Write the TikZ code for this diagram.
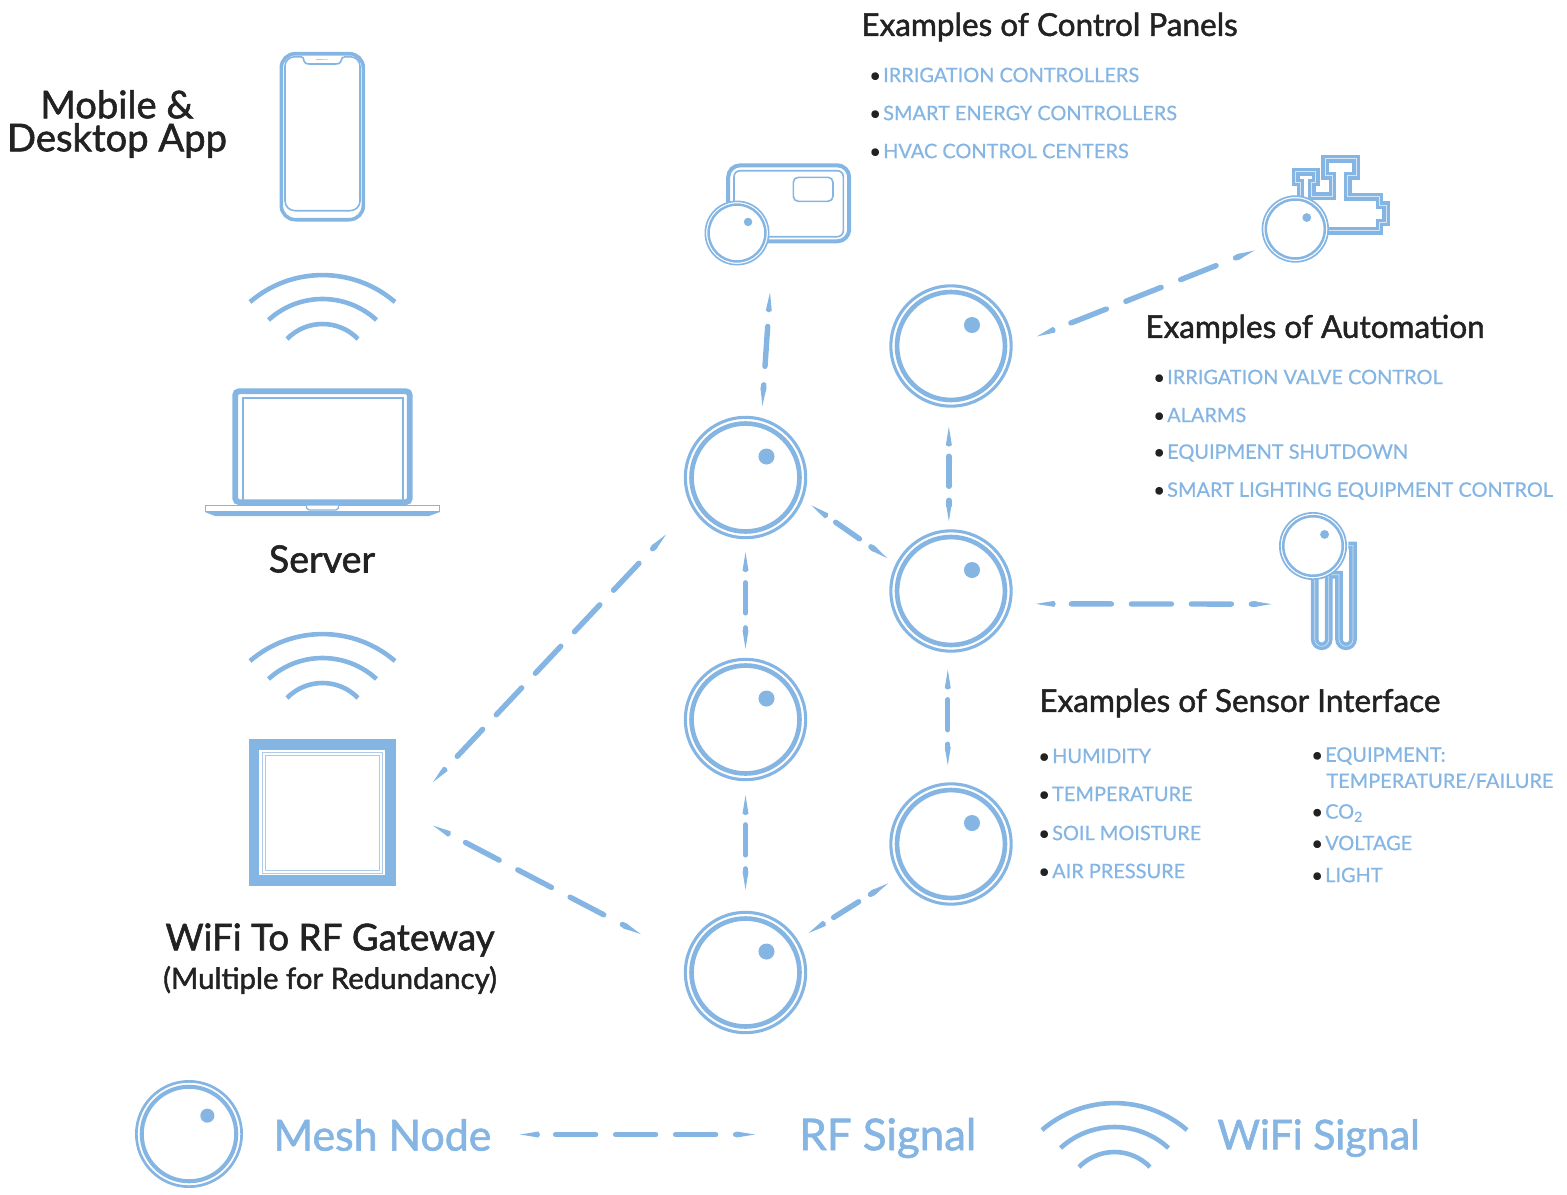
\documentclass[tikz,border=0pt]{standalone}
\usepackage{fontspec}
\setmainfont{Lato}
\newfontfamily\headfont[FakeBold=1.5]{Lato}
\newfontfamily\listfont[FakeBold=0.7]{Lato}
\usetikzlibrary{arrows.meta,calc}
\definecolor{meshblue}{HTML}{85B5E3}
\definecolor{ink}{HTML}{222222}
\tikzset{
  meshring/.style={circle, draw=meshblue, fill=white, inner sep=0pt},
  rfsignal/.style={color=meshblue, line width=2.7pt, line cap=round, arrows={Kite[length=10pt,width=3pt,inset=0.8pt]-Kite[length=10pt,width=3pt,inset=0.8pt]}},
  rfdash/.style 2 args={dash pattern=on #1pt off #2pt, dash phase=#1pt},
  wifiarc/.style={draw=meshblue, line width=2.3pt},
  wifisignal/.pic={
    \draw[wifiarc] (-72.5,27) .. controls (-30.9,-8.9) and (30.9,-8.9) .. (72.5,27);
    \draw[wifiarc] (-54,45) .. controls (-23.4,17) and (23.4,17) .. (54,45);
    \draw[wifiarc] (-35.5,64) .. controls (-16.1,44) and (16.1,44) .. (35.5,64);
  },
  iconline/.style={draw=meshblue, line width=0.8pt},
  paleline/.style={draw=meshblue!70, line width=0.5pt},
  bandline/.style={draw=meshblue, line width=3.8pt},
  bandgap/.style={draw=meshblue!35, line width=0.3pt},
  headtext/.style={text=ink, font=\headfont\fontsize{15.75}{17}\selectfont, anchor=west, inner sep=0pt},
  bigtext/.style={text=ink, font=\headfont\fontsize{19.1}{16.5}\selectfont, align=center, inner sep=0pt},
  listtext/.style={text=meshblue, font=\listfont\fontsize{9.97}{12}\selectfont, anchor=west, inner sep=0pt},
  legendtext/.style={text=meshblue, font=\headfont\fontsize{21.4}{24}\selectfont, anchor=west, inner sep=0pt},
}
\newcommand{\listitem}[3]{\node[listtext] (#1) at (#2) {\textcolor{ink}{\textbullet}\hspace{1.1pt}#3};}
\newcommand{\meshnode}[3]{
  \node[meshring, minimum size=0.975*#3 pt, line width=0.025*#3 pt] (#1) at (#2) {};
  \draw[draw=meshblue, line width=0.0375*#3 pt] (#1) circle[radius=0.875*#3];
  \fill[meshblue] ($(#1)+(0.34*#3,-0.34*#3)$) circle[radius=0.13*#3];
}
\begin{document}
\begin{tikzpicture}[x=0.5pt,y=-0.5pt]
  \useasboundingbox (0,0) rectangle (1567,1194);

  \node[bigtext] (apptext) at (117,124) {Mobile \&\\Desktop App};
  \node[bigtext, font=\headfont\fontsize{18.8}{22}\selectfont] (servertext) at (322,559) {Server};
  \node[bigtext, font=\headfont\fontsize{18.4}{22}\selectfont] (gwtext) at (330,940) {WiFi To RF Gateway};
  \node[bigtext, font=\headfont\fontsize{14.7}{18}\selectfont] (gwsubtext) at (330,980) {(Multiple for Redundancy)};

  \node[draw=meshblue, line width=1.8pt, rounded corners=7pt, minimum width=41pt, minimum height=83pt, inner sep=0pt] (phone) at (322.3,136.7) {};
  \draw[iconline] (295,56.7) -- (301,56.7) to[out=0,in=90] (304,61) to[out=-90,in=180] (309,64) -- (336,64) to[out=0,in=-90] (341,61) to[out=90,in=180] (345,56.7) -- (350,56.7)
    to[out=0,in=90] (360,66) -- (360,201) to[out=-90,in=0] (350,210.7) -- (295,210.7) to[out=180,in=-90] (285,201) -- (285,66) to[out=90,in=180] cycle;
  \draw[paleline] (322,59) -- +(6,0) -- +(-6,0);
  \pic at (322.5,275) {wifisignal};

  \node[draw=meshblue, line width=2.9pt, rounded corners=2pt, minimum width=87.3pt, minimum height=55.5pt, inner sep=0pt] (laptop) at (322.5,446.7) {};
  \draw[draw=meshblue, line width=1.2pt] (242.8,398) rectangle (402.8,500.8);
  \draw[draw=meshblue, fill=white, line width=0.7pt] (205.5,505.5) rectangle (439.5,511.7);
  \fill[meshblue] (205,511) -- (440,511) -- (440,512) -- (429,516) -- (215,516) -- (205,512) -- cycle;
  \draw[draw=meshblue, fill=white, line width=0.6pt] (306.5,505.5) -- (306.5,508) -- (309,510) -- (336,510) -- (338.5,508) -- (338.5,505.5);
  \pic at (322.5,634) {wifisignal};

  \node[draw=meshblue, line width=5.3pt, minimum width=68.3pt, minimum height=68pt, inner sep=0pt] (gateway) at (322.2,812.5) {};
  \draw[paleline] (262.5,752.3) rectangle (382.7,873.3);
  \draw[paleline] (265,755) rectangle (379.5,870);

  \node[draw=meshblue, line width=2pt, rounded corners=6pt, minimum width=60.5pt, minimum height=38pt, inner sep=0pt] (panel) at (788.7,203.3) {};
  \draw[iconline, rounded corners=3pt] (734,170.7) rectangle (843.3,236.7);
  \draw[iconline, rounded corners=2.5pt] (793.3,177.3) rectangle (833,201.3);
  \meshnode{panelnode}{737,233}{32.5}

  \draw[bandline] (1300.3,196.7) -- (1300.3,182.3) -- (1295.7,182.3) -- (1295.7,171.7) -- (1315.7,171.7) -- (1315.7,182.3) -- (1311.7,182.3) -- (1311.7,196) -- (1332.3,196) -- (1332.3,175.7) -- (1325,175.7) -- (1325,158.7) -- (1356,158.7) -- (1356,175.7) -- (1347.7,175.7) -- (1347.7,196.7) -- (1379.3,196.7) -- (1379.3,205) -- (1386,205) -- (1386,222.3) -- (1379.3,222.3) -- (1379.3,230.7) -- (1326.7,230.7);
  \draw[bandgap] (1300.3,196.7) -- (1300.3,182.3) -- (1295.7,182.3) -- (1295.7,171.7) -- (1315.7,171.7) -- (1315.7,182.3) -- (1311.7,182.3) -- (1311.7,196) -- (1332.3,196) -- (1332.3,175.7) -- (1325,175.7) -- (1325,158.7) -- (1356,158.7) -- (1356,175.7) -- (1347.7,175.7) -- (1347.7,196.7) -- (1379.3,196.7) -- (1379.3,205) -- (1386,205) -- (1386,222.3) -- (1379.3,222.3) -- (1379.3,230.7) -- (1326.7,230.7);
  \meshnode{valve}{1295.3,229}{33.7}

  \node[minimum width=22pt, minimum height=53pt, inner sep=0pt] (sensor) at (1334,596) {};
  \draw[bandline] (1314.7,576.7) [rounded corners=3.5pt] -- (1314.7,646.3) -- (1328.7,646.3) [sharp corners] -- (1328.7,574.7) -- (1339,574.7) [rounded corners=3.5pt] -- (1339,646.3) -- (1353,646.3) [sharp corners] -- (1353,545.3) -- (1348.3,545.3);
  \draw[bandgap] (1314.7,576.7) [rounded corners=3.5pt] -- (1314.7,646.3) -- (1328.7,646.3) [sharp corners] -- (1328.7,574.7) -- (1339,574.7) [rounded corners=3.5pt] -- (1339,646.3) -- (1353,646.3) [sharp corners] -- (1353,545.3) -- (1348.3,545.3);
  \meshnode{sensornode}{1313,546}{34}

  \meshnode{n1}{745.5,477.5}{61.7}
  \meshnode{n2}{745.5,719.5}{61.7}
  \meshnode{n3}{745.5,972.5}{61.7}
  \meshnode{n4}{951,591}{61.7}
  \meshnode{n5}{951,346}{61.7}
  \meshnode{n6}{951,844}{61.7}
  \meshnode{legendnode}{189,1134}{54}

  \coordinate (rfa) at (520,1134.5);
  \coordinate (rfb) at (755,1134.5);

  \begin{scope}[rfsignal]
    \draw[rfdash={20}{9.25}, shorten <=24.6pt, shorten >=6pt] (panel.249) to (n1.75);
    \draw[rfdash={18.5}{10}, shorten <=27pt, shorten >=18.5pt] (gateway.-7) to (n1.209);
    \draw[rfdash={19}{10.5}, shorten <=21pt, shorten >=25.3pt] (gateway.5) to (n3.166);
    \draw[rfdash={15}{7.5}, shorten <=6.5pt, shorten >=4.5pt] (n1.south) to (n2.north);
    \draw[rfdash={15}{7}, shorten <=7pt, shorten >=10.5pt] (n2.south) to (n3.north);
    \draw[rfdash={14.5}{7}, shorten <=5pt, shorten >=5pt] (n1.-21) to (n4.154);
    \draw[rfdash={15}{7}, shorten <=9.5pt, shorten >=4pt] (n5.268) to (n4.92);
    \draw[rfdash={15}{7.25}, shorten <=8.5pt, shorten >=8.5pt] (n4.267) to (n6.93);
    \draw[rfdash={19}{10.5}, shorten <=13pt, shorten >=6.2pt] (n5.east) to (valve.210);
    \draw[rfdash={20}{10}, shorten <=12.2pt, shorten >=20pt] (n4.-12) to (sensor.200);
    \draw[rfdash={14.75}{7}, shorten <=6.3pt, shorten >=6.2pt] (n3) to (n6);
    \draw[rfdash={20}{10}] (rfa) to (rfb);
  \end{scope}

  \node[headtext] (paneltext) at (861,27) {Examples of Control Panels};
  \listitem{panelone}{869,75}{IRRIGATION CONTROLLERS}
  \listitem{paneltwo}{869,113}{SMART ENERGY CONTROLLERS}
  \listitem{panelthree}{869,151}{HVAC CONTROL CENTERS}

  \node[headtext] (autotext) at (1145,329) {Examples of Automation};
  \listitem{autoone}{1153,377}{IRRIGATION VALVE CONTROL}
  \listitem{autotwo}{1153,415}{ALARMS}
  \listitem{autothree}{1153,453}{EQUIPMENT SHUTDOWN}
  \listitem{autofour}{1153,491}{SMART LIGHTING EQUIPMENT CONTROL}

  \node[headtext] (sensortext) at (1039,703) {Examples of Sensor Interface};
  \listitem{sensorone}{1038,756}{HUMIDITY}
  \listitem{sensortwo}{1038,794}{TEMPERATURE}
  \listitem{sensorthree}{1038,833}{SOIL MOISTURE}
  \listitem{sensorfour}{1038,871}{AIR PRESSURE}
  \listitem{sensorfive}{1311,756}{EQUIPMENT:}
  \node[listtext] (sensorfivemore) at (1326,781) {TEMPERATURE/FAILURE};
  \listitem{sensorsix}{1311,813}{CO\textsubscript{2}}
  \listitem{sensorseven}{1311,843}{VOLTAGE}
  \listitem{sensoreight}{1311,875}{LIGHT}

  \node[legendtext] (meshtext) at (273,1135) {Mesh Node};
  \node[legendtext, font=\headfont\fontsize{21.9}{24}\selectfont] (rftext) at (799,1138) {RF Signal};
  \pic at (1114.5,1103) {wifisignal};
  \node[legendtext, font=\headfont\fontsize{20.6}{24}\selectfont] (wifitext) at (1217,1138) {WiFi Signal};
\end{tikzpicture}
\end{document}
